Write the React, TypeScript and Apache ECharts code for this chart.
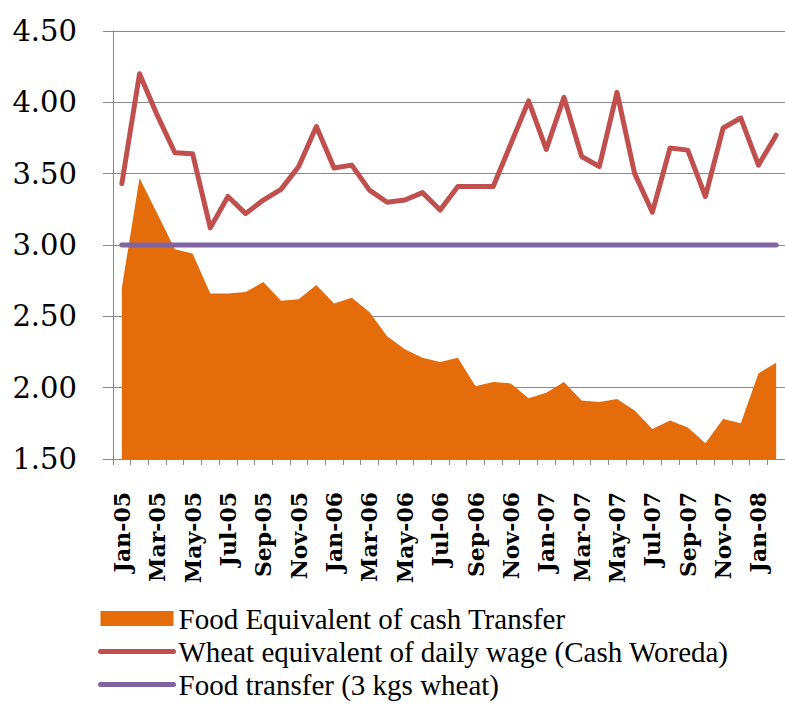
import React, { useEffect, useRef } from "react";
import * as echarts from "echarts";

const months: string[] = [
  "Jan-05", "Feb-05", "Mar-05", "Apr-05", "May-05", "Jun-05", "Jul-05", "Aug-05", "Sep-05", "Oct-05", "Nov-05", "Dec-05",
  "Jan-06", "Feb-06", "Mar-06", "Apr-06", "May-06", "Jun-06", "Jul-06", "Aug-06", "Sep-06", "Oct-06", "Nov-06", "Dec-06",
  "Jan-07", "Feb-07", "Mar-07", "Apr-07", "May-07", "Jun-07", "Jul-07", "Aug-07", "Sep-07", "Oct-07", "Nov-07", "Dec-07",
  "Jan-08", "Feb-08",
];

const foodEquivalent: number[] = [
  2.70, 3.47, 3.22, 2.97, 2.94, 2.66, 2.66, 2.67, 2.74, 2.61, 2.62, 2.72,
  2.59, 2.63, 2.53, 2.36, 2.27, 2.21, 2.18, 2.21, 2.01, 2.04, 2.03, 1.925,
  1.965, 2.04, 1.91, 1.90, 1.92, 1.84, 1.71, 1.77, 1.72, 1.61, 1.78, 1.75,
  2.10, 2.175,
];

const wheatWage: number[] = [
  3.43, 4.20, 3.91, 3.647, 3.64, 3.12, 3.34, 3.22, 3.315, 3.39, 3.55, 3.83,
  3.54, 3.56, 3.385, 3.30, 3.315, 3.367, 3.245, 3.41, 3.41, 3.41, 3.71, 4.01,
  3.67, 4.035, 3.62, 3.55, 4.07, 3.50, 3.23, 3.68, 3.665, 3.34, 3.82, 3.89,
  3.56, 3.77,
];

const foodTransfer: number[] = months.map(() => 3.0);

const seriesNames = [
  "Food Equivalent of cash Transfer",
  "Wheat equivalent of daily wage (Cash Woreda)",
  "Food transfer (3 kgs wheat)",
];

const ORANGE = "#E46C0A";
const RED = "#C0504D";
const PURPLE = "#8064A2";
const GRID_GRAY = "#898989";
const NO_FILL = "rgba(0,0,0,0)";

export default function App() {
  const ref = useRef<HTMLDivElement>(null);

  useEffect(() => {
    if (!ref.current) return;
    const chart = echarts.init(ref.current, null, { renderer: "svg" });
    chart.setOption({
      animation: false,
      backgroundColor: "#ffffff",
      grid: { left: 113, right: 0, top: 31, bottom: 246 },
      legend: {
        orient: "vertical",
        left: 98,
        top: 604,
        height: 200,
        padding: 0,
        itemWidth: 73,
        itemHeight: 15,
        itemGap: 4,
        textStyle: { fontFamily: "Liberation Serif", fontSize: 29, color: "#000" },
        data: [
          { name: seriesNames[0], icon: "rect", itemStyle: { color: ORANGE } },
          {
            name: seriesNames[1],
            itemStyle: { color: NO_FILL, borderWidth: 0 },
            lineStyle: { width: 5, color: RED, cap: "round" },
          },
          {
            name: seriesNames[2],
            itemStyle: { color: NO_FILL, borderWidth: 0 },
            lineStyle: { width: 5, color: PURPLE, cap: "round" },
          },
        ],
      },
      xAxis: {
        type: "category",
        data: months,
        boundaryGap: true,
        axisLine: { lineStyle: { color: GRID_GRAY, width: 1 } },
        axisTick: { show: true, length: 6, interval: 0, lineStyle: { color: GRID_GRAY } },
        axisLabel: {
          interval: 1,
          rotate: 90,
          margin: 33,
          color: "#000",
          fontFamily: "DejaVu Serif",
          fontWeight: "bold",
          fontSize: 22,
        },
        splitLine: { show: false },
      },
      yAxis: {
        type: "value",
        min: 1.5,
        max: 4.5,
        interval: 0.5,
        axisLine: { show: true, lineStyle: { color: GRID_GRAY, width: 1 } },
        axisTick: { show: true, length: 10, lineStyle: { color: GRID_GRAY } },
        axisLabel: {
          margin: 36,
          color: "#000",
          fontFamily: "DejaVu Serif",
          fontSize: 29,
          formatter: (v: number) => v.toFixed(2),
        },
        splitLine: { show: true, lineStyle: { color: GRID_GRAY, width: 1 } },
      },
      series: [
        {
          name: seriesNames[0],
          type: "line",
          data: foodEquivalent,
          symbol: "none",
          itemStyle: { color: ORANGE },
          lineStyle: { width: 0, color: ORANGE },
          areaStyle: { color: ORANGE, opacity: 1 },
          z: 1,
        },
        {
          name: seriesNames[1],
          type: "line",
          data: wheatWage,
          symbol: "none",
          itemStyle: { color: RED },
          lineStyle: { width: 5, color: RED, cap: "round", join: "round" },
          z: 3,
        },
        {
          name: seriesNames[2],
          type: "line",
          data: foodTransfer,
          symbol: "none",
          itemStyle: { color: PURPLE },
          lineStyle: { width: 5, color: PURPLE, cap: "round", join: "round" },
          z: 2,
        },
      ],
    });
    return () => chart.dispose();
  }, []);

  return (
    <div
      ref={ref}
      style={{ position: "fixed", left: 0, top: 0, width: 785, height: 705, background: "#fff" }}
    />
  );
}
